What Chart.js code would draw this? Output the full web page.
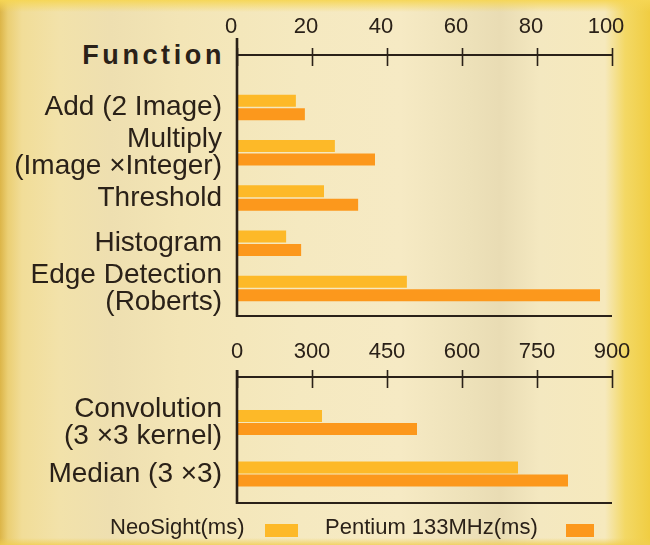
<!DOCTYPE html>
<html>
<head>
<meta charset="utf-8">
<script src="https://cdn.jsdelivr.net/npm/chart.js@4.4.1/dist/chart.umd.min.js"></script>
<style>
html,body{margin:0;padding:0;width:650px;height:545px;overflow:hidden;}
body{
  position:relative;
  font-family:"Liberation Sans",Arial,Helvetica,sans-serif;
  color:#2a2118;
  background:
    linear-gradient(to bottom, rgba(246,214,84,0.95) 0px, rgba(246,214,84,0) 12px, rgba(246,214,84,0) 538px, rgba(240,205,80,0.8) 545px),
    linear-gradient(to right, #dcb548 0px, #ebcf74 8px, #f1dd98 22px, #f2e2aa 60px, #eedfb0 110px, #f3e5b6 180px, #f5e9c0 300px, #f6eac4 400px, #ede1b9 470px, #e9dcb4 500px, #f4e8c0 540px, #f6e9bd 605px, #f3d865 625px, #f0cd42 650px);
}
canvas{position:absolute;left:0;}
#c1{top:0;}
#c2{top:330px;}
#fn{position:absolute;right:425px;top:39px;font-weight:bold;font-size:27px;line-height:32px;letter-spacing:3.6px;}
.lg{position:absolute;top:514px;font-size:22px;line-height:26px;}
.bx{position:absolute;top:524px;height:13px;}
</style>
</head>
<body>
<div id="fn">Function</div>
<canvas id="c1" width="650" height="330"></canvas>
<canvas id="c2" width="650" height="185"></canvas>
<div class="lg" style="left:110px;">NeoSight(ms)</div>
<div class="bx" id="bx1" style="left:265px;width:33px;"></div>
<div class="lg" style="left:325px;">Pentium 133MHz(ms)</div>
<div class="bx" id="bx2" style="left:566px;width:28px;"></div>
<script>
// ---- data ----
const topCategories = [['Add (2 Image)'], ['Multiply', '(Image \u00d7Integer)'], ['Threshold'], ['Histogram'], ['Edge Detection', '(Roberts)']];
const topNeoSight = [15.7, 26.1, 23.2, 13.1, 45.3];
const topPentium = [18.1, 36.8, 32.3, 17.1, 96.8];
const topTickValues = [0, 20, 40, 60, 80, 100];
const topTickLabels = ['0', '20', '40', '60', '80', '100'];

const bottomCategories = [['Convolution', '(3 \u00d73 kernel)'], ['Median (3 \u00d73)']];
const bottomNeoSight = [320, 712];
const bottomPentium = [510, 812];
const bottomTickValues = [150, 300, 450, 600, 750, 900];
const bottomTickLabels = ['0', '300', '450', '600', '750', '900'];

const seriesNames = ['NeoSight(ms)', 'Pentium 133MHz(ms)'];
// ---- style ----
const NEO = '#fdb928';
const PEN = '#fc981c';
const INK = '#2a2118';
document.getElementById('bx1').style.background = NEO;
document.getElementById('bx2').style.background = PEN;

const framePlugin = {
  id: 'frame',
  afterDraw(chart, args, opts) {
    const {ctx, chartArea: a, scales} = chart;
    ctx.save();
    ctx.strokeStyle = INK;
    ctx.lineCap = 'butt';
    ctx.lineWidth = 1.6;
    scales.x.ticks.forEach(t => {
      const px = Math.round(scales.x.getPixelForValue(t.value)) + 0.5;
      ctx.beginPath();
      ctx.moveTo(px, a.top - 7);
      ctx.lineTo(px, a.top + 11);
      ctx.stroke();
    });
    ctx.lineWidth = 2;
    ctx.beginPath();
    ctx.moveTo(a.left, a.top);
    ctx.lineTo(a.right, a.top);
    ctx.stroke();
    ctx.beginPath();
    ctx.moveTo(a.left, a.bottom);
    ctx.lineTo(a.right, a.bottom);
    ctx.stroke();
    ctx.lineWidth = 2.6;
    ctx.beginPath();
    ctx.moveTo(a.left, a.top - opts.ext);
    ctx.lineTo(a.left, a.bottom + 1);
    ctx.stroke();
    ctx.restore();
  }
};

function noPad(s) { s.paddingTop = 0; s.paddingBottom = 0; s.paddingLeft = 0; s.paddingRight = 0; }

function makeChart(id, cats, neo, pen, tickVals, tickLabels, cfg) {
  return new Chart(document.getElementById(id), {
    type: 'bar',
    data: {
      datasets: [
        {label: seriesNames[0], data: neo.map((v, i) => ({x: v, y: i})), backgroundColor: NEO,
         categoryPercentage: cfg.catPct, barPercentage: cfg.barPct},
        {label: seriesNames[1], data: pen.map((v, i) => ({x: v, y: i})), backgroundColor: PEN,
         categoryPercentage: cfg.catPct, barPercentage: cfg.barPct}
      ]
    },
    options: {
      indexAxis: 'y',
      responsive: false,
      animation: false,
      layout: {padding: {left: 0, right: 38, top: 0, bottom: cfg.padBottom}},
      plugins: {legend: {display: false}, tooltip: {enabled: false}, frame: {ext: cfg.ext}},
      scales: {
        x: {
          type: 'linear', position: 'top', offset: false,
          min: tickVals[0], max: tickVals[tickVals.length - 1],
          afterBuildTicks: s => { s.ticks = tickVals.map(v => ({value: v})); },
          afterFit: s => { s.height = cfg.axisTop; noPad(s); },
          grid: {display: false, drawTicks: false, offset: false},
          border: {display: false},
          ticks: {
            callback: (v, i) => tickLabels[i],
            font: {family: '"Liberation Sans", Arial, sans-serif', size: 22},
            color: INK, padding: cfg.tickPad, labelOffset: cfg.labelOffset,
            maxRotation: 0, autoSkip: false
          }
        },
        y: {
          type: 'linear', reverse: true, offset: false,
          min: cfg.yMin, max: cfg.yMax,
          afterBuildTicks: s => { s.ticks = cats.map((c, i) => ({value: i})); },
          afterFit: s => { s.width = 237; noPad(s); },
          grid: {display: false, drawTicks: false, offset: false},
          border: {display: false},
          ticks: {
            callback: v => cats[v],
            font: {family: '"Liberation Sans", Arial, sans-serif', size: 28, lineHeight: 0.965},
            color: INK, padding: 15, autoSkip: false
          }
        }
      }
    },
    plugins: [framePlugin]
  });
}

makeChart('c1', topCategories, topNeoSight, topPentium, topTickValues, topTickLabels,
  {catPct: 0.597, barPct: 0.89, padBottom: 14, axisTop: 55, tickPad: 15, labelOffset: -6,
   yMin: -1.16, yMax: 4.608, ext: 17});
makeChart('c2', bottomCategories, bottomNeoSight, bottomPentium, bottomTickValues, bottomTickLabels,
  {catPct: 0.505, barPct: 0.92, padBottom: 12, axisTop: 47, tickPad: 12, labelOffset: 0,
   yMin: -0.883, yMax: 1.563, ext: 7});
</script>
</body>
</html>
